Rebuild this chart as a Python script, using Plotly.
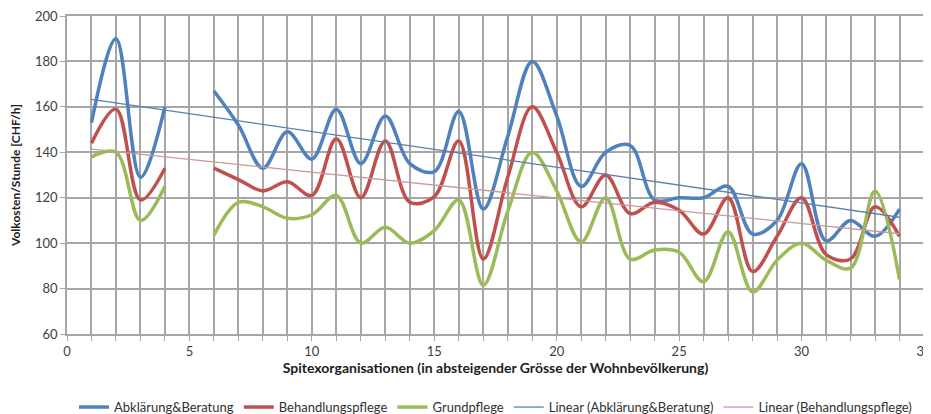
import numpy as np
import plotly.graph_objects as go

x_vals = list(range(1, 35))
abklaerung = [153, 190, 129, 160, None, 167, 152, 133, 149, 137, 159, 135, 156, 135, 131.5, 158, 115, 147,
              180, 156, 125, 140, 143, 119, 120, 120, 125, 104, 110, 135, 101, 110, 103, 115]
behandlung = [144, 159, 119, 133, None, 133, 128, 123, 127, 121, 146, 120, 145, 118, 120.5, 145, 93, 129,
              160, 140, 116, 130, 113, 118, 114.5, 104, 120, 87.5, 103, 120, 95, 93, 116, 103]
grundpflege = [138, 140, 110, 125, None, 103.5, 118, 116, 111, 112.5, 121, 100, 107, 100, 105.5, 119, 81.5, 114,
               140, 123, 100.5, 120, 93, 97, 96, 83, 105, 78.5, 92.5, 100, 92.5, 89, 123, 84]

names = ["Abklärung&Beratung", "Behandlungspflege", "Grundpflege",
         "Linear (Abklärung&Beratung)", "Linear (Behandlungspflege)"]
colors = ["#4F81BD", "#C0504D", "#9BBB59"]
y_ticks = [60, 80, 100, 120, 140, 160, 180, 200]
x_ticks = [0, 5, 10, 15, 20, 25, 30, 35]


def trend(xs, ys):
    pts = [(a, b) for a, b in zip(xs, ys) if b is not None]
    px = np.array([p[0] for p in pts], dtype=float)
    py = np.array([p[1] for p in pts], dtype=float)
    k, d = np.polyfit(px, py, 1)
    xx = [xs[0], xs[-1]]
    return xx, [k * v + d for v in xx]


fig = go.Figure()
for ys, nm, c in zip([abklaerung, behandlung, grundpflege], names[:3], colors):
    fig.add_trace(go.Scatter(x=x_vals, y=ys, name=nm, mode="lines",
                             line=dict(color=c, width=3.5, shape="spline", smoothing=1.0),
                             connectgaps=False))

tx, ty = trend(x_vals, abklaerung)
fig.add_trace(go.Scatter(x=tx, y=ty, name=names[3], mode="lines",
                         line=dict(color="#5A7FAE", width=1.3)))
tx, ty = trend(x_vals, behandlung)
fig.add_trace(go.Scatter(x=tx, y=ty, name=names[4], mode="lines",
                         line=dict(color="#C99A99", width=1.3)))

grid = "#A6A6A6"
fig.update_layout(
    width=923, height=414,
    margin=dict(l=59, r=7, t=8, b=88),
    plot_bgcolor="white", paper_bgcolor="white",
    font=dict(family="Lato", size=13, color="#404040"),
    showlegend=True,
    legend=dict(orientation="h", x=0.5, xanchor="center", yref="container", y=0.036, yanchor="middle",
                font=dict(size=13, color="#303030"), itemwidth=30, tracegroupgap=0),
    xaxis=dict(range=[0, 35], tickvals=x_ticks, showgrid=True, gridcolor=grid, gridwidth=1.6,
               ticks="outside", ticklen=5, tickcolor=grid, automargin=False,
               ticklabeloverflow="allow",
               minor=dict(dtick=1, showgrid=True, gridcolor=grid, gridwidth=1.6,
                          ticks="outside", ticklen=5, tickcolor=grid),
               showline=True, linecolor=grid, linewidth=1.6, mirror=True, zeroline=False,
               title=dict(text="<b>Spitexorganisationen (in absteigender Grösse der Wohnbevölkerung)</b>",
                          font=dict(size=14, color="#202020"), standoff=5)),
    yaxis=dict(range=[60, 200], tickvals=y_ticks, showgrid=True, gridcolor=grid, gridwidth=1.6,
               ticks="outside", ticklen=5, tickcolor=grid, automargin=False,
               ticklabeloverflow="allow",
               showline=True, linecolor=grid, linewidth=1.6, mirror=True, zeroline=False,
               title=dict(text="<b>Volkosten/Stunde [CHF/h]</b>",
                          font=dict(size=12, color="#202020"), standoff=12)),
)

fig.write_html("out.html")
